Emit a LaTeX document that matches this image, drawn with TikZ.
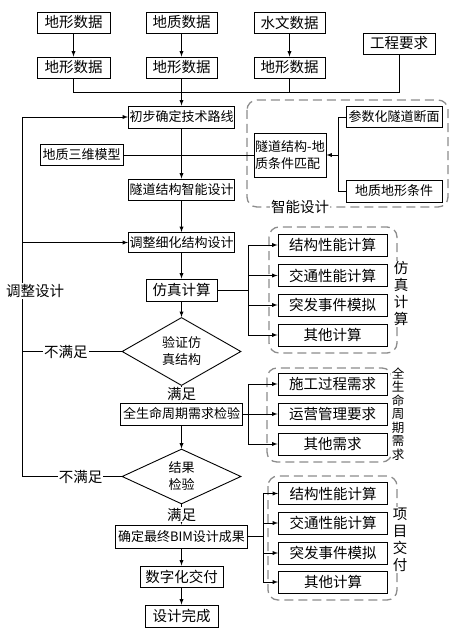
\documentclass[tikz,border=0pt]{standalone}
\usepackage{fontspec}
\setmainfont{Noto Sans CJK SC}
\usetikzlibrary{arrows,shapes.geometric}

\begin{document}
\begin{tikzpicture}
  [x=1pt,y=-1pt,line width=.9pt,>=latex,
   every node/.style={font=\fontsize{13}{17}\selectfont,inner sep=0pt},
   big/.style={font=\fontsize{14.5}{17}\selectfont},
   box/.style={draw,rectangle,fill=white,minimum height=21pt},
   sub/.style={box,big,minimum width=109pt,minimum height=22pt},
   dia/.style={draw,diamond,fill=white,minimum width=119pt,minimum height=49pt,align=center},
   grp/.style={draw=black!45,dash pattern=on 9pt off 5pt,rounded corners=10pt,line width=1.3pt},
   lbl/.style={fill=white,inner sep=1pt},
   vlbl/.style={fill=white,align=center,inner sep=1pt}]
  \useasboundingbox (0,0) rectangle (465,639);

  \draw[grp] (247,100) rectangle (448,207);
  \draw[grp] (269,227) rectangle (397,353);
  \draw[grp] (267,368) rectangle (392,462);
  \draw[grp] (268,476) rectangle (397,600);

  \node[box,big,minimum width=73pt] (d1a) at (73.5,22.5)  {地形数据};
  \node[box,big,minimum width=71pt] (d2a) at (181.5,22.5) {地质数据};
  \node[box,big,minimum width=71pt] (d3a) at (289.5,22.5) {水文数据};
  \node[box,big,minimum width=72pt] (req) at (399,43.5)   {工程要求};
  \node[box,big,minimum width=73pt] (d1b) at (73.5,67.5)  {地形数据};
  \node[box,big,minimum width=71pt] (d2b) at (181.5,67.5) {地形数据};
  \node[box,big,minimum width=71pt] (d3b) at (289.5,67.5) {地形数据};
  \coordinate (bus) at (181.5,92);

  \node[box,minimum width=106pt,minimum height=22pt] (route) at (181.5,117) {初步确定技术路线};
  \node[box,minimum width=83pt] (geo3d) at (81.5,155) {地质三维模型};
  \node[box,minimum width=72pt,minimum height=44pt,align=left] (match) at (290,155) {隧道结构-地\\质条件匹配};
  \node[box,minimum width=96pt] (param) at (394,117) {参数化隧道断面};
  \node[box,minimum width=96pt,minimum height=22pt] (terr) at (394,191) {地质地形条件};
  \coordinate (mp) at (338,155);
  \node[box,minimum width=106pt] (smart) at (181.5,189.5) {隧道结构智能设计};
  \node[lbl,big] (g1t) at (300,207) {智能设计};

  \node[box,minimum width=106pt,minimum height=20pt] (adjust) at (181.5,242.5) {调整细化结构设计};
  \node[box,big,minimum width=71pt,minimum height=22pt] (sim) at (181.5,290) {仿真计算};
  \coordinate (sp) at (248,290);
  \node[sub] (s1) at (332.5,245)   {结构性能计算};
  \node[sub] (s2) at (332.5,275.5) {交通性能计算};
  \node[sub] (s3) at (332.5,305)   {突发事件模拟};
  \node[sub] (s4) at (332.5,335)   {其他计算};
  \node[vlbl,big] (g2t) at (401,294) {仿\\真\\计\\算};

  \node[dia] (chk1) at (181.5,351.5) {验证仿\\真结构};
  \node[box,minimum width=122pt,minimum height=22pt] (life) at (181.5,414) {全生命周期需求检验};
  \coordinate (lp) at (248,414);
  \node[sub] (l1) at (332.5,384) {施工过程需求};
  \node[sub] (l2) at (332.5,414) {运营管理要求};
  \node[sub] (l3) at (332.5,444) {其他需求};
  \node[vlbl,font=\fontsize{12.5}{13.5}\selectfont] (g3t) at (398,414) {全\\生\\命\\周\\期\\需\\求};

  \node[dia] (chk2) at (181.5,476.5) {结果\\检验};
  \node[box,minimum width=132pt,minimum height=23pt] (final) at (181.5,536.5) {确定最终BIM设计成果};
  \coordinate (fp) at (263,536.5);
  \node[sub] (f1) at (333,493.5) {结构性能计算};
  \node[sub] (f2) at (333,523)   {交通性能计算};
  \node[sub] (f3) at (333,553)   {突发事件模拟};
  \node[sub] (f4) at (333,582)   {其他计算};
  \node[vlbl,big] (g4t) at (400,540) {项\\目\\交\\付};
  \node[box,big,minimum width=83pt] (deliv) at (181.5,576.5) {数字化交付};
  \node[box,big,minimum width=73pt,minimum height=22pt] (done) at (181.5,616) {设计完成};

  \coordinate (L) at (22,476.5);

\foreach \from/\to in
{d1a/d1b, d2a/d2b, d3a/d3b, route/smart, smart/adjust, adjust/sim, sim/chk1, life/chk2, final/deliv, deliv/done}
    \draw[->] (\from) -- (\to);
  \draw (d1b) |- (bus);
  \draw (d3b) |- (bus);
  \draw (req) |- (bus);
  \draw[->] (d2b) -- (route);
  \draw (geo3d) -- (match);
  \draw (param) -| (mp);
  \draw (terr) -| (mp);
  \draw[->] (mp) -- (match);

  \draw (sim) -- (sp);
\foreach \n in {s1,s2,s3,s4}
    \draw[->] (sp) |- (\n);
  \draw (life) -- (lp);
\foreach \n in {l1,l2,l3}
    \draw[->] (lp) |- (\n);
  \draw (final) -- (fp);
\foreach \n in {f1,f2,f3,f4}
    \draw[->] (fp) |- (\n);

  \draw[->] (chk1) -- node[lbl,big] {满足} (life);
  \draw[->] (chk2) -- node[lbl,big] {满足} (final);
  \draw (chk1.west) -- node[lbl,big,pos=.56] {不满足} (L |- chk1);
  \draw[->] (chk2.west) -- node[lbl,big,pos=.41] {不满足} (L) |- (route);
  \draw[->] (L |- adjust) -- (adjust);
  \node[lbl,big] (back) at (35,291) {调整设计};
\end{tikzpicture}
\end{document}
